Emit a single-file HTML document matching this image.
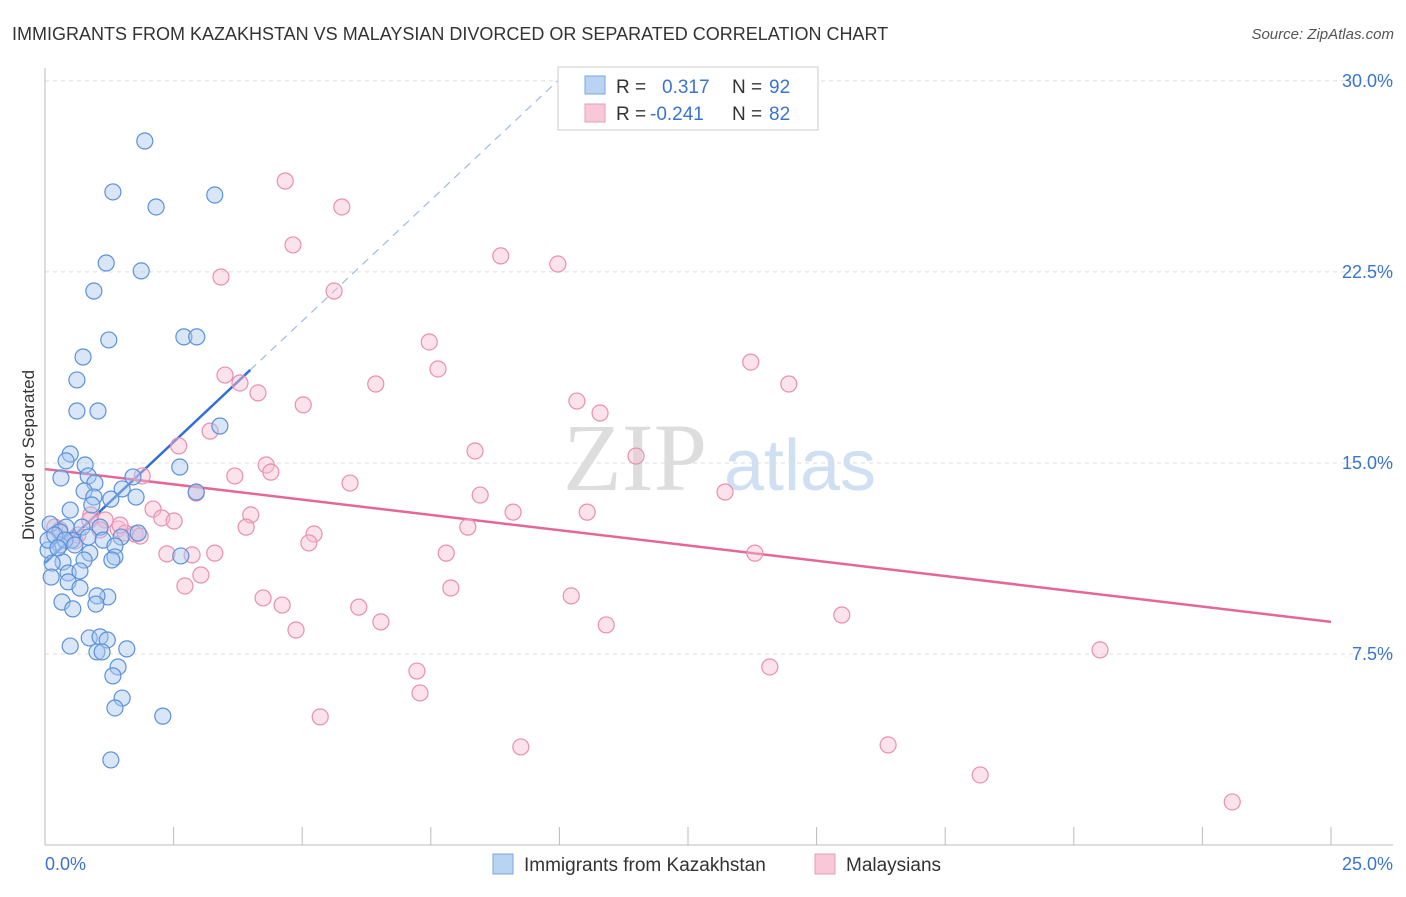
<!DOCTYPE html>
<html><head><meta charset="utf-8"><style>
body{margin:0;background:#fff;font-family:"Liberation Sans",sans-serif}
svg text{font-family:"Liberation Sans",sans-serif}
</style></head><body>
<svg id="chart" width="1406" height="892" xmlns="http://www.w3.org/2000/svg">
<text x="12" y="40" font-size="18" fill="#333">IMMIGRANTS FROM KAZAKHSTAN VS MALAYSIAN DIVORCED OR SEPARATED CORRELATION CHART</text>
<text x="1394" y="39" font-size="15" fill="#555" text-anchor="end" font-style="italic">Source: ZipAtlas.com</text>
<text x="0" y="0" transform="translate(34,455) rotate(-90)" font-size="17" fill="#333" text-anchor="middle">Divorced or Separated</text>
<g><text x="635" y="490" font-size="96" fill="#ddd" text-anchor="middle" font-family="Liberation Serif" style="font-family:'Liberation Serif',serif">ZIP</text><text x="800" y="490" font-size="72" fill="#cfe0f3" text-anchor="middle">atlas</text></g>
<g id="grid"></g><g id="axes"></g><g id="lines"></g><g id="pts"></g>
<g>
<rect x="558" y="67" width="260" height="63" fill="#fff" stroke="#ccc"/>
<rect x="585" y="76" width="20" height="18" fill="#b9d3f3" stroke="#7aa7e0"/>
<rect x="585" y="104" width="20" height="18" fill="#f9c8d8" stroke="#ea9bb6"/>
<text x="616" y="93" font-size="19" fill="#333">R =</text><text x="662" y="93" font-size="19" fill="#3a74d0">0.317</text>
<text x="732" y="93" font-size="19" fill="#333">N =</text><text x="769" y="93" font-size="19" fill="#3a74d0">92</text>
<text x="616" y="120" font-size="19" fill="#333">R =</text><text x="650" y="120" font-size="19" fill="#3a74d0">-0.241</text>
<text x="732" y="120" font-size="19" fill="#333">N =</text><text x="769" y="120" font-size="19" fill="#3a74d0">82</text>
</g>
<g>
<rect x="493" y="854" width="20" height="20" fill="#b9d3f3" stroke="#7aa7e0"/>
<text x="524" y="871" font-size="19" fill="#333">Immigrants from Kazakhstan</text>
<rect x="815" y="854" width="20" height="20" fill="#f9c8d8" stroke="#ea9bb6"/>
<text x="846" y="871" font-size="19" fill="#333">Malaysians</text>
</g>
</svg>
<script>
const blueX=[1.94,1.32,2.16,3.30,1.19,1.87,0.95,1.24,2.70,2.95,0.74,0.62,0.62,1.03,3.40,0.49,0.41,0.78,0.31,0.84,2.62,1.71,0.97,1.50,0.76,0.95,1.28,1.77,2.94,0.91,0.49,0.72,1.07,0.41,0.10,0.29,0.52,0.84,0.29,0.06,1.81,1.48,1.13,1.36,0.87,0.35,0.76,1.36,1.30,2.64,0.14,0.45,0.68,0.12,0.45,0.68,1.22,1.01,0.33,0.99,0.54,0.49,0.86,1.07,1.21,1.59,1.01,1.11,1.42,1.32,1.50,1.36,2.29,1.28,0.06,0.19,0.39,0.58,0.25];
const blueY=[27.64,25.64,25.05,25.52,22.85,22.54,21.75,19.83,19.95,19.95,19.16,18.26,17.04,17.04,16.45,15.35,15.08,14.92,14.41,14.49,14.84,14.45,14.21,13.98,13.90,13.66,13.58,13.66,13.86,13.35,13.15,12.48,12.48,12.48,12.60,12.29,11.97,12.09,11.78,11.58,12.25,12.09,11.97,11.74,11.46,11.11,11.19,11.31,11.19,11.35,11.07,10.68,10.76,10.52,10.33,10.09,9.74,9.78,9.54,9.46,9.27,7.81,8.13,8.17,8.05,7.70,7.58,7.58,6.99,6.64,5.77,5.38,5.06,3.34,11.97,12.17,11.97,11.78,11.66];
const pinkX=[4.67,5.77,4.82,8.86,9.97,3.42,5.62,7.47,13.72,7.64,3.50,3.79,6.43,14.46,4.14,10.34,5.02,10.79,2.60,3.21,8.36,11.49,4.30,4.39,3.69,5.93,1.89,8.46,13.22,2.94,0.89,1.17,2.10,2.27,2.51,9.10,10.54,4.00,3.91,8.22,5.23,1.42,1.56,1.75,1.85,0.87,0.64,0.19,0.58,5.13,2.37,2.86,3.30,7.80,13.80,3.03,2.72,7.89,4.24,4.61,10.23,6.10,15.49,4.88,6.53,10.91,20.51,7.23,14.09,7.29,5.35,9.25,16.39,18.18,23.08,1.07,1.46,0.29];
const pinkY=[26.07,25.05,23.56,23.13,22.81,22.30,21.75,19.75,18.96,18.69,18.45,18.14,18.10,18.10,17.75,17.43,17.28,16.96,15.67,16.25,15.47,15.27,14.92,14.64,14.49,14.21,14.49,13.74,13.86,13.82,12.96,12.76,13.19,12.84,12.72,13.07,13.07,12.96,12.48,12.48,12.21,12.41,12.25,12.21,12.13,12.76,12.17,12.48,11.94,11.86,11.43,11.39,11.46,11.46,11.46,10.60,10.17,10.09,9.70,9.42,9.78,9.34,9.03,8.44,8.76,8.64,7.66,6.83,6.99,5.97,5.03,3.85,3.93,2.75,1.69,12.37,12.56,12.37];
const yTicks=[7.5,15,22.5,30];
const yTickLabels=["7.5%","15.0%","22.5%","30.0%"];
const xTickLabels=["0.0%","25.0%"];
const blueTrend=[11.07,1.90];
const pinkTrend=[14.76,-0.24];
const NS="http://www.w3.org/2000/svg";
const sx=v=>45+v*51.44, sy=v=>845-v*25.47;
function mk(tag,attrs,parent){const e=document.createElementNS(NS,tag);for(const k in attrs)e.setAttribute(k,attrs[k]);document.getElementById(parent).appendChild(e);return e;}
yTicks.forEach((t,i)=>{
 const g=mk('line',{x1:45,x2:1393,y1:sy(t),y2:sy(t),stroke:'#ddd','stroke-dasharray':'4,4'},'grid');
 
 
 const l=mk('text',{x:1393,y:sy(t)+6,'font-size':18,fill:'#3a74d0','text-anchor':'end'},'grid');
 l.textContent=yTickLabels[i];
 
 
});
const ax=mk('line',{x1:45,x2:45,y1:68,y2:845,stroke:'#bbb'},'axes');


const bx=mk('line',{x1:45,x2:1393,y1:845,y2:845,stroke:'#bbb'},'axes');


for(let i=0;i<=10;i++){const t=mk('line',{x1:sx(i*2.5),x2:sx(i*2.5),y1:827,y2:845,stroke:'#bbb'},'axes');
 
 }
[[0,'start',45],[25,'end',1393]].forEach((a,i)=>{const t=mk('text',{x:a[2],y:870,'font-size':18,fill:'#3a74d0','text-anchor':a[1]},'axes');t.textContent=xTickLabels[i];
 
 });
function dot(x,y,f,s,n){const c=mk('circle',{cx:sx(x),cy:sy(y),r:8,fill:f,'fill-opacity':0.45,stroke:s,'stroke-width':1.2},'pts');
 
 }
pinkX.forEach((x,i)=>dot(x,pinkY[i],'#f7bfd2','#e98fb0','malaysians-point'));
blueX.forEach((x,i)=>dot(x,blueY[i],'#a9c8f0','#5b91da','kazakhstan-point'));
const bEnd=3.99, bDash=(30-blueTrend[0])/blueTrend[1];
const bl=mk('line',{x1:sx(0),y1:sy(blueTrend[0]),x2:sx(bEnd),y2:sy(blueTrend[0]+blueTrend[1]*bEnd),stroke:'#2f6fd6','stroke-width':2.5},'lines');


const bd=mk('line',{x1:sx(bEnd),y1:sy(blueTrend[0]+blueTrend[1]*bEnd),x2:sx(bDash),y2:sy(30),stroke:'#9dbbe6','stroke-width':1.2,'stroke-dasharray':'8,6'},'lines');


const pl=mk('line',{x1:sx(0),y1:sy(pinkTrend[0]),x2:sx(25),y2:sy(pinkTrend[0]+pinkTrend[1]*25),stroke:'#e4679a','stroke-width':2.5},'lines');


</script>
</body></html>
